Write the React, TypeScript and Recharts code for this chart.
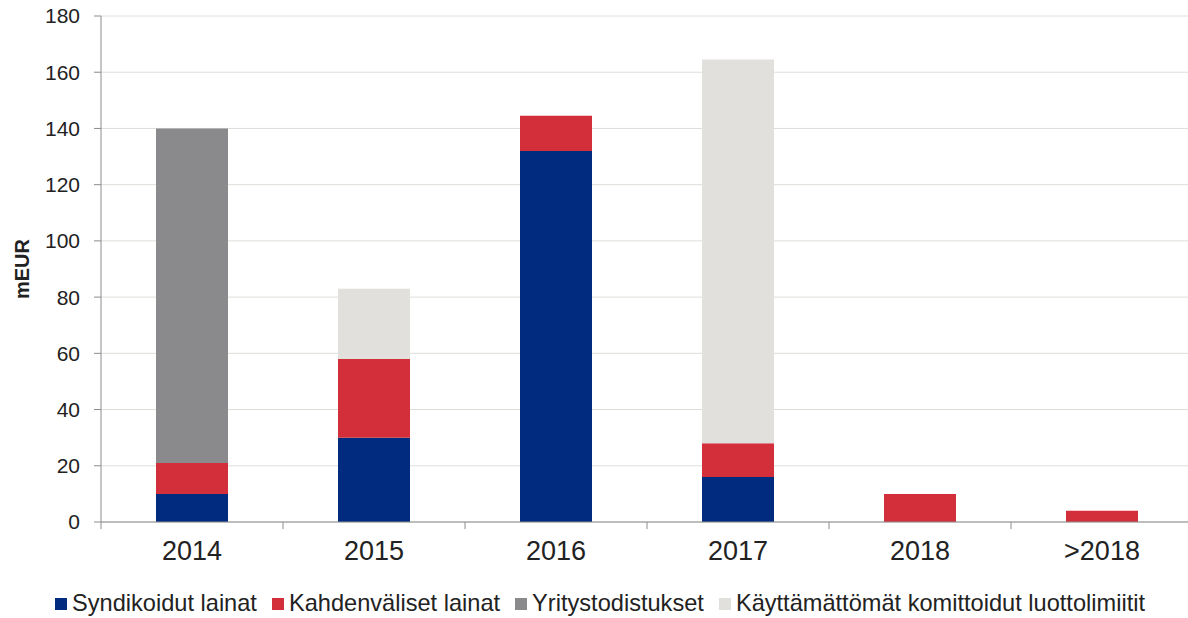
import React from 'react'
import { BarChart, Bar, XAxis, YAxis, CartesianGrid } from 'recharts'

const categories = ['2014', '2015', '2016', '2017', '2018', '>2018']
const syndikoidut = [10, 30, 132, 16, 0, 0]
const kahdenvaliset = [11, 28, 12.5, 12, 10, 4]
const yritystodistukset = [119, 0, 0, 0, 0, 0]
const kayttamattomat = [0, 25, 0, 136.5, 0, 0]
const yTicks = [0, 20, 40, 60, 80, 100, 120, 140, 160, 180]

const SERIES = [
  { key: 'syn', name: 'Syndikoidut lainat', color: '#002b7f' },
  { key: 'kah', name: 'Kahdenväliset lainat', color: '#d22f3b' },
  { key: 'yri', name: 'Yritystodistukset', color: '#8a8a8c' },
  { key: 'kay', name: 'Käyttämättömät komittoidut luottolimiitit', color: '#e1e0dd' },
]

const data = categories.map((c, i) => ({
  name: c,
  syn: syndikoidut[i],
  kah: kahdenvaliset[i],
  yri: yritystodistukset[i],
  kay: kayttamattomat[i],
}))

const W = 1188
const H = 618
// plot runs a few px past the right edge in the original
const CHART_W = 1193
const LEFT = 101
const BAND = (CHART_W - LEFT) / categories.length
const FONT = 'Liberation Sans, Arial, sans-serif'
const AXIS = '#8c8c8c'

const CategoryTick = (props: any) => {
  const { x, y, payload } = props
  return (
    <g>
      <line x1={x - BAND / 2} x2={x - BAND / 2} y1={y} y2={y + 7} stroke={AXIS} />
      <text x={x} y={y + 38} textAnchor="middle" fontSize={27} fill="#222" fontFamily={FONT}>
        {payload.value}
      </text>
    </g>
  )
}

const Legend = () => (
  <div
    style={{
      position: 'absolute',
      left: 0,
      top: 590,
      width: W,
      display: 'flex',
      justifyContent: 'center',
      gap: 15,
      fontFamily: FONT,
      fontSize: 23.6,
      color: '#222',
      paddingLeft: 12,
      boxSizing: 'border-box',
      whiteSpace: 'nowrap',
    }}
  >
    {SERIES.map((s) => (
      <div key={s.key} style={{ display: 'flex', alignItems: 'center' }}>
        <span style={{ width: 12, height: 12, background: s.color, marginRight: 5, display: 'inline-block' }} />
        {s.name}
      </div>
    ))}
  </div>
)

export default function App() {
  return (
    <div style={{ position: 'absolute', left: 0, top: 0, width: W, height: H, background: '#fff', overflow: 'hidden' }}>
      <BarChart
        width={CHART_W}
        height={H}
        data={data}
        margin={{ top: 16, right: 0, left: 0, bottom: 46 }}
        barSize={72}
      >
        <CartesianGrid vertical={false} stroke="#deded9" />
        <XAxis
          dataKey="name"
          axisLine={{ stroke: AXIS }}
          tickLine={false}
          tickSize={0}
          tickMargin={0}
          height={50}
          interval={0}
          tick={<CategoryTick />}
        />
        <YAxis
          width={LEFT}
          domain={[0, 180]}
          ticks={yTicks}
          interval={0}
          axisLine={{ stroke: AXIS }}
          tickLine={{ stroke: AXIS }}
          tickSize={7}
          tickMargin={14}
          tick={{ fontSize: 21, fill: '#222', fontFamily: FONT }}
          label={{
            value: 'mEUR',
            angle: -90,
            position: 'insideLeft',
            offset: 22,
            style: { fontSize: 20, fontWeight: 'bold', fill: '#222', fontFamily: FONT, textAnchor: 'middle' },
          }}
        />
        {SERIES.map((s) => (
          <Bar key={s.key} dataKey={s.key} name={s.name} stackId="a" fill={s.color} isAnimationActive={false} />
        ))}
      </BarChart>
      <Legend />
    </div>
  )
}
